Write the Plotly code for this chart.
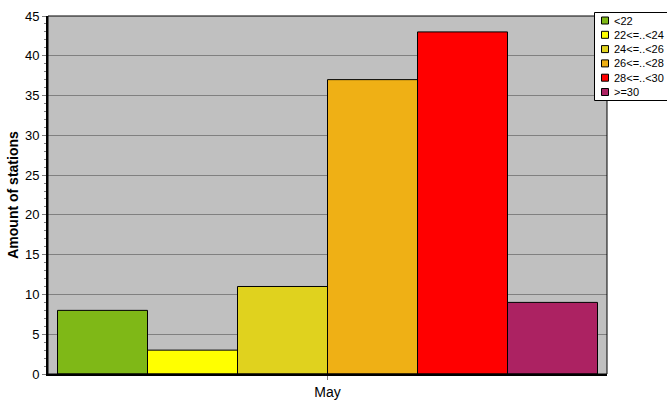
import plotly.graph_objects as go

categories = ["May"]
series_names = ["<22", "22<=..<24", "24<=..<26", "26<=..<28", "28<=..<30", ">=30"]
series_values = [8, 3, 11, 37, 43, 9]
series_colors = ["#7FB817", "#FFFF00", "#E0D21E", "#EFB015", "#FF0000", "#AC2262"]
y_ticks = [0, 5, 10, 15, 20, 25, 30, 35, 40, 45]

W, H = 667, 415
ML, MT, MR, MB = 48, 16, 60, 41
PW, PH = W - ML - MR, H - MT - MB


def px_x(sx):
    return (sx - ML) / PW


def px_y(sy):
    return (H - MB - sy) / PH


fig = go.Figure()
for name, val, col in zip(series_names, series_values, series_colors):
    fig.add_trace(go.Bar(
        x=categories, y=[val], name=name,
        marker=dict(color=col, line=dict(color="black", width=1)),
    ))

shapes = [dict(type="rect", xref="paper", yref="paper", x0=0, y0=0, x1=1, y1=1,
               line=dict(color="black", width=1), layer="above")]
annotations = []
# legend box
shapes.append(dict(type="rect", xref="paper", yref="paper",
                   x0=px_x(594.5), x1=px_x(700), y0=px_y(12.5), y1=px_y(100.5),
                   fillcolor="white", line=dict(color="black", width=1), layer="above"))
for i, (name, col) in enumerate(zip(series_names, series_colors)):
    cy = 20.5 + i * 14.3
    shapes.append(dict(type="rect", xref="paper", yref="paper",
                       x0=px_x(601.5), x1=px_x(608.5), y0=px_y(cy - 3.5), y1=px_y(cy + 3.5),
                       fillcolor=col, line=dict(color="black", width=1), layer="above"))
    annotations.append(dict(xref="paper", yref="paper", x=px_x(612), y=px_y(cy),
                            xanchor="left", yanchor="middle", showarrow=False,
                            text=name, font=dict(size=11, color="black")))

fig.update_layout(
    width=W, height=H,
    margin=dict(l=ML, r=MR, t=MT, b=MB, autoexpand=False),
    paper_bgcolor="white", plot_bgcolor="#C0C0C0",
    barmode="group", bargap=0.034, bargroupgap=0,
    font=dict(family="Liberation Sans, Arial, sans-serif", size=12, color="black"),
    showlegend=False,
    shapes=shapes, annotations=annotations,
)
fig.update_yaxes(
    range=[0, 45], tickvals=y_ticks, showgrid=True, gridcolor="#808080", gridwidth=1,
    ticks="outside", ticklen=4, tickcolor="#808080",
    minor=dict(dtick=1, ticks="outside", ticklen=2, tickcolor="#808080", showgrid=False),
    showline=True, linecolor="black", linewidth=2, zeroline=False,
    title=dict(text="<b>Amount of stations</b>", font=dict(size=14), standoff=3),
    tickfont=dict(size=13),
)
fig.update_xaxes(
    ticks="outside", ticklen=4, tickcolor="#808080",
    showline=True, linecolor="black", linewidth=2,
    tickfont=dict(size=14),
)
fig.write_html("out.html", default_width=f"{W}px", default_height=f"{H}px",
               config={"displayModeBar": False},
               post_script="document.body.style.margin='0';document.body.style.overflow='hidden';")
